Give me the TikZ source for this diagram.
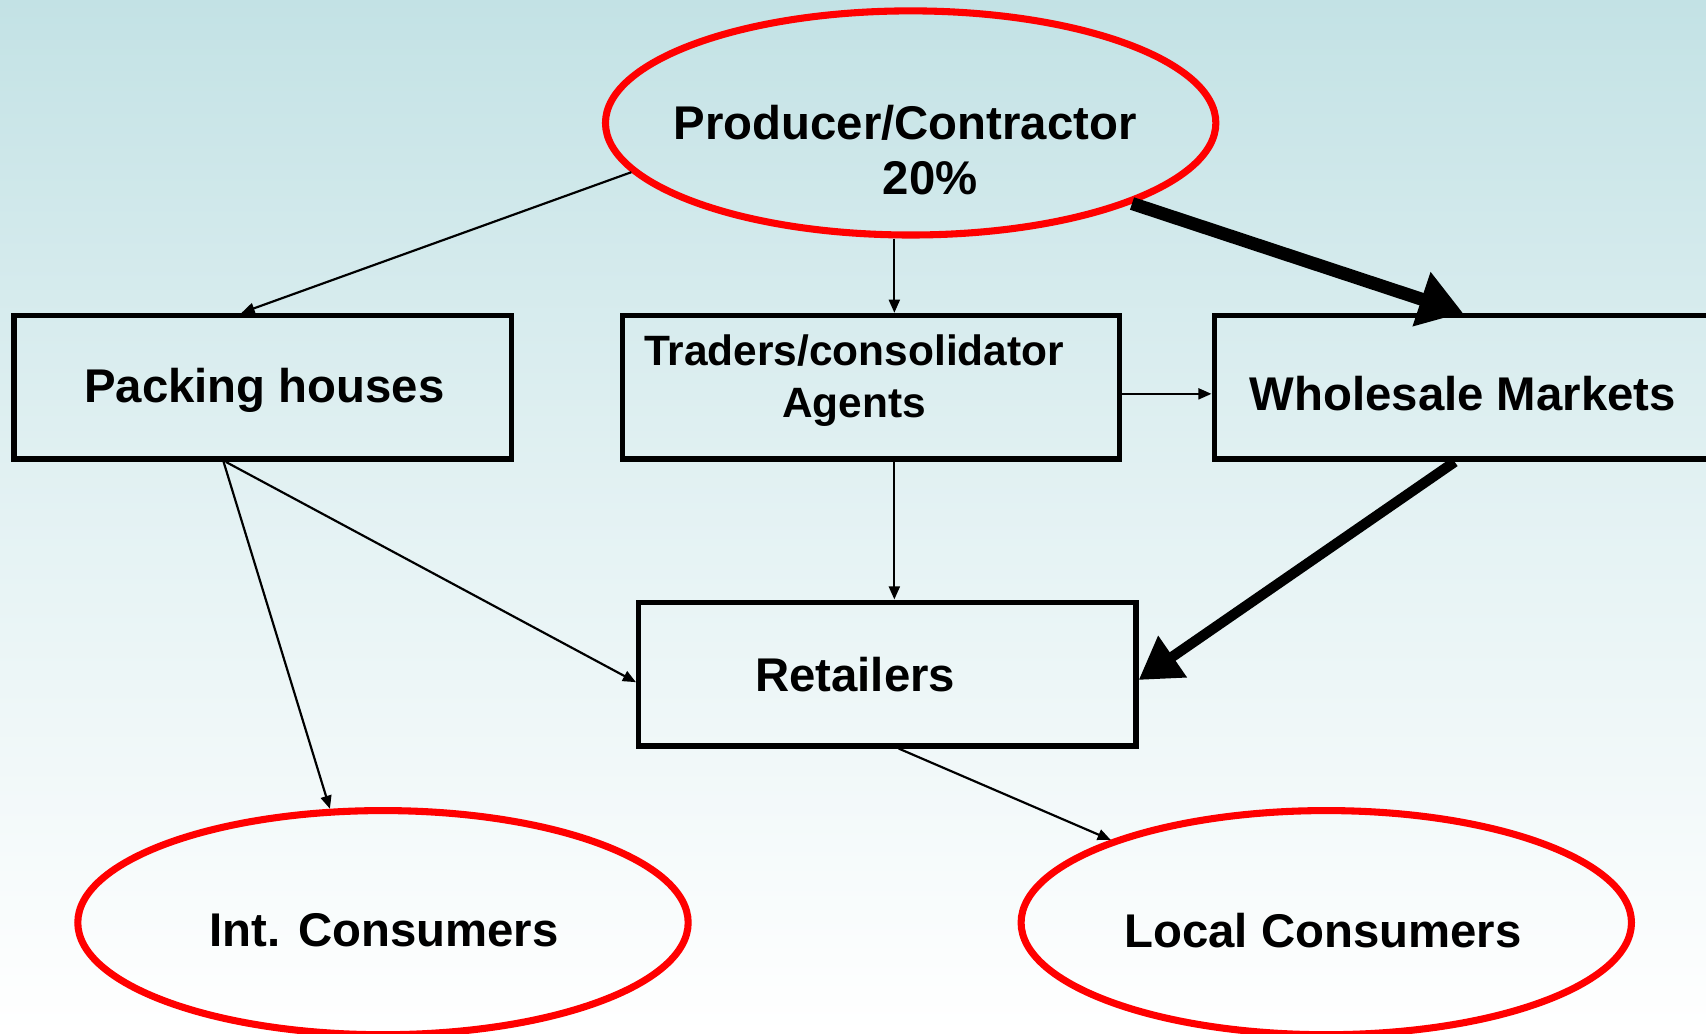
\documentclass[tikz,border=0pt]{standalone}
\usepackage{fontspec}
\setmainfont{Liberation Sans}
\usetikzlibrary{arrows.meta,shapes.geometric}
\definecolor{bgtop}{RGB}{195,226,229}
\definecolor{ovalred}{RGB}{255,0,0}
\tikzset{
  x=1pt, y=-1pt,
  oval/.style={ellipse, draw=ovalred, line width=6.5pt, minimum width=561pt, minimum height=206pt, inner sep=0pt},
  boxnode/.style={rectangle, draw=black, line width=5pt, minimum width=457pt, minimum height=132pt, inner sep=0pt},
  lbl/.style={font=\bfseries\fontsize{43.5}{50}\selectfont, inner sep=0pt, align=center},
  thinarrow/.style={line width=2pt, -{Triangle[length=12pt,width=10pt]}},
  thickarrow/.style={line width=12pt, -{Triangle[length=40pt,width=50pt]}},
  thickarrowb/.style={line width=9.5pt, -{Triangle[length=38pt,width=44pt]}},
}
\begin{document}
\begin{tikzpicture}
\useasboundingbox (0,0) rectangle (1568,950);
\shade[top color=bgtop, bottom color=white, middle color={bgtop!45!white}] (0,0) rectangle (1568,950);
\begin{scope}
\clip (0,0) rectangle (1568,950);
% nodes
\node[oval] (prod) at (837,113) {};
\node[lbl] (prodt) at (832,138) {Producer/Contractor\\\hspace*{46pt}20\%};
\node[boxnode] (pack) at (241.5,356) {};
\node[lbl] (packt) at (243,359) {Packing houses};
\node[boxnode] (trad) at (800.5,356) {};
\node[lbl, font=\bfseries\fontsize{39}{48}\selectfont] (tradt) at (785,350) {Traders/consolidator\\Agents};
\node[boxnode] (whole) at (1344.5,356) {};
\node[lbl] (wholet) at (1344.5,362) {Wholesale Markets};
\node[boxnode] (retail) at (815.5,619.5) {};
\node[lbl] (retailt) at (786,620) {Retailers};
\node[oval] (intc) at (352,848) {};
\node[lbl] (intct) at (353,855) {Int. Consumers};
\node[oval] (locc) at (1219,848) {};
\node[lbl] (locct) at (1216,855) {Local Consumers};
% connectors
\draw[thinarrow] (prod.190) -- ([xshift=-19.5pt]pack.north);
\draw[thinarrow] ([xshift=-15pt]prod.south) -- ([xshift=21.5pt]trad.north);
\draw[thickarrow] (prod.340) -- (whole.north);
\draw[thinarrow] ([yshift=-6pt]trad.east) -- ([yshift=-6pt]whole.west);
\draw[thinarrow] ([xshift=-36pt]pack.south) -- (intc.115);
\draw[thinarrow] ([xshift=-34pt]pack.south) -- ([yshift=-7.5pt]retail.west);
\draw[thinarrow] ([xshift=21.5pt]trad.south) -- ([xshift=6.5pt]retail.north);
\draw[thickarrowb] ([xshift=-7.5pt]whole.south) -- ([yshift=-5.5pt]retail.east);
\draw[thinarrow] ([xshift=10.5pt]retail.south) -- (locc.159);
\end{scope}
\end{tikzpicture}
\end{document}
